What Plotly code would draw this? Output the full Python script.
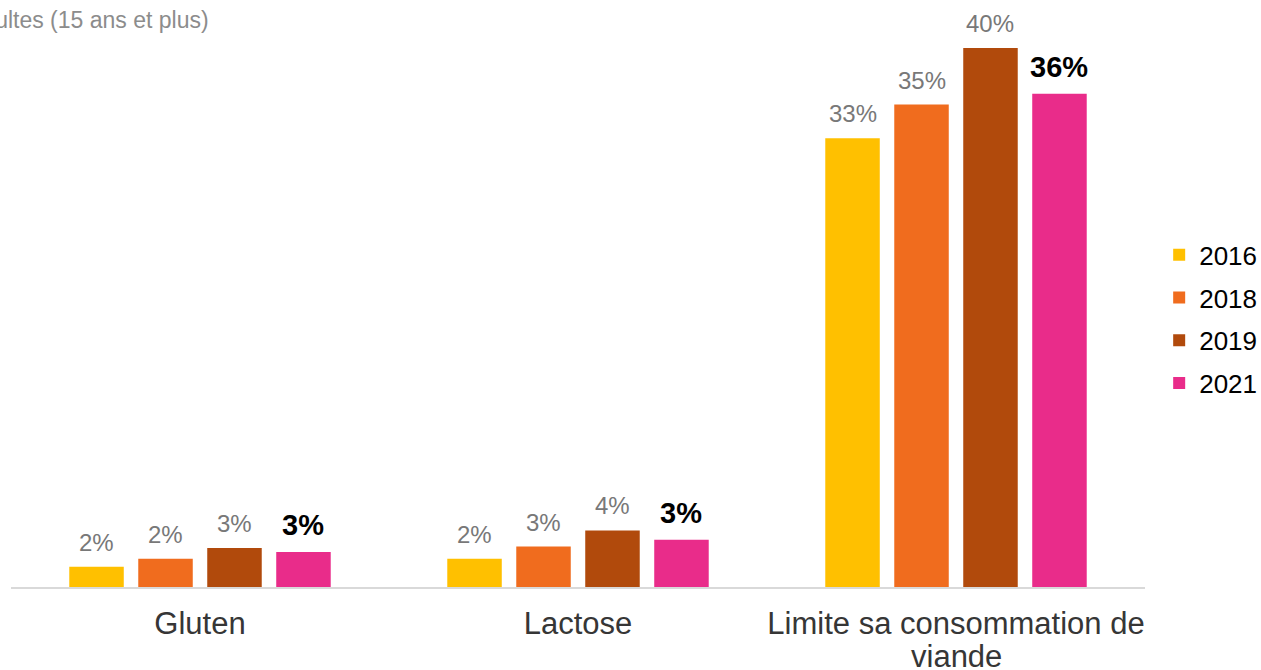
import plotly.graph_objects as go

categories = ["Gluten", "Lactose", "Limite sa consommation de viande"]
years = ["2016", "2018", "2019", "2021"]
values = {
    "2016": [1.5, 2.1, 33.3],
    "2018": [2.1, 3.0, 35.8],
    "2019": [2.9, 4.2, 40.0],
    "2021": [2.6, 3.5, 36.6],
}
labels = {
    "2016": ["2%", "2%", "33%"],
    "2018": ["2%", "3%", "35%"],
    "2019": ["3%", "4%", "40%"],
    "2021": ["3%", "3%", "36%"],
}
colors = {"2016": "#FFC000", "2018": "#F06C1E", "2019": "#B14A0C", "2021": "#E92C8A"}
subtitle = "Adultes (15 ans et plus)"

FONT = "Liberation Sans, Arial, sans-serif"
bargap = 0.27

fig = go.Figure()
for y in years:
    fig.add_trace(go.Bar(
        name=y,
        x=categories,
        y=values[y],
        marker=dict(color=colors[y], line=dict(width=0)),
        legendgroup=y,
    ))

# value labels, anchored on each bar through the axis scales
annotations = []
slot = (1 - bargap) / len(years)
for i, y in enumerate(years):
    bold = y == "2021"
    for j, c in enumerate(categories):
        annotations.append(dict(
            x=j + (i - (len(years) - 1) / 2) * slot, xref="x",
            y=values[y][j], yref="y",
            text=f"<b>{labels[y][j]}</b>" if bold else labels[y][j],
            showarrow=False, xanchor="center", yanchor="bottom", yshift=9,
            font=dict(size=29 if bold else 24, color="#000000" if bold else "#787878", family=FONT),
        ))

# wrapped category label: first line as tick text, rest as a second line
ticktext = []
for j, c in enumerate(categories):
    if len(c) > 20:
        head, tail = c.rsplit(" ", 1)
        ticktext.append(head)
        annotations.append(dict(
            x=j, xref="x", y=-0.0867, yref="paper", text=tail, showarrow=False,
            xanchor="center", yanchor="top",
            font=dict(size=31, color="#363636", family=FONT),
        ))
    else:
        ticktext.append(c)

annotations.append(dict(
    text=subtitle, xref="paper", yref="paper", x=0.1763, y=0.9827,
    xanchor="right", yanchor="middle", showarrow=False,
    font=dict(size=23, color="#8C8C8C", family=FONT),
))

fig.update_layout(
    width=1261, height=670,
    margin=dict(l=11, r=116, t=10, b=83, autoexpand=False),
    plot_bgcolor="white", paper_bgcolor="white",
    barmode="group", bargap=bargap, bargroupgap=0.21,
    font=dict(family=FONT),
    showlegend=True,
    legend=dict(x=1.0125, xanchor="left", y=0.464, yanchor="middle",
                font=dict(size=26, color="#000000"),
                traceorder="grouped", tracegroupgap=6,
                itemwidth=30),
    xaxis=dict(showline=True, linecolor="#D9D9D9", linewidth=2,
               tickmode="array", tickvals=categories, ticktext=ticktext,
               tickfont=dict(size=31, color="#363636"), ticks="",
               ticklabelstandoff=8, showgrid=False),
    yaxis=dict(range=[0, 42.82], visible=False, showgrid=False, zeroline=False),
    annotations=annotations,
)

fig.write_html("out.html", config={"displayModeBar": False},
               post_script="document.body.style.margin='0';")
